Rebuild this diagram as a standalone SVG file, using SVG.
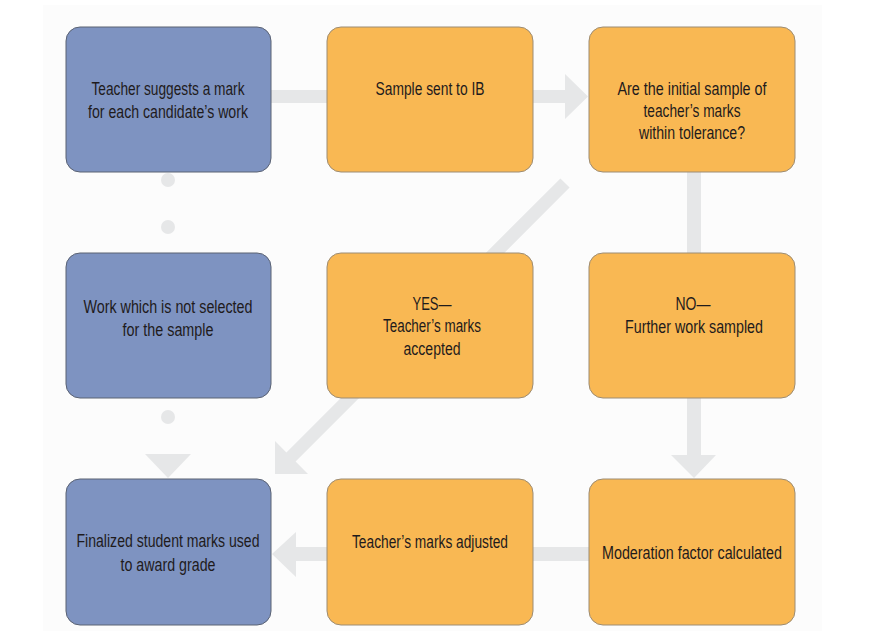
<svg xmlns="http://www.w3.org/2000/svg" width="895" height="631" viewBox="0 0 895 631">
<style>
.bg{fill:#fcfcfc}
.con{fill:#e6e7e8}
.blue{fill:#7e93c1;stroke:#5a6273;stroke-width:1}
.orange{fill:#f9b853;stroke:#9c8c74;stroke-width:1}
text{font-family:"Liberation Sans",Arial,sans-serif;font-size:17.5px;fill:#1f1b1c;text-anchor:middle}
</style>
<rect class="bg" x="43" y="5" width="779" height="626"/>
<g id="connectors">
<rect class="con" x="271" y="90" width="56" height="13"/>
<polygon class="con" points="533,90 565,90 565,74 588,96.5 565,119 565,103 533,103"/>
<rect class="con" x="687" y="172" width="14" height="81"/>
<polygon class="con" points="687,398 701,398 701,455 716,455 694,478 671,455 687,455"/>
<rect class="con" x="533" y="547" width="56" height="14"/>
<polygon class="con" points="327,547 327,561 296,561 296,577 272,554 296,532 296,547"/>
<polygon class="con" points="560.4,178.4 569.6,187.6 295.6,461.6 308,474 275,474 275,441 286.4,452.4"/>
<circle class="con" cx="168" cy="180" r="7"/>
<circle class="con" cx="168" cy="227" r="7"/>
<circle class="con" cx="168" cy="417" r="7"/>
<polygon class="con" points="145,454 191,454 168,478"/>
</g>
<g id="n1">
<rect class="blue" x="66" y="27" width="205" height="145" rx="14"/>
<text x="168" y="95" textLength="153" lengthAdjust="spacingAndGlyphs">Teacher suggests a mark</text>
<text x="168" y="118" textLength="160" lengthAdjust="spacingAndGlyphs">for each candidate’s work</text>
</g>
<g id="n2">
<rect class="orange" x="327" y="27" width="206" height="145" rx="14"/>
<text x="430" y="95" textLength="109" lengthAdjust="spacingAndGlyphs">Sample sent to IB</text>
</g>
<g id="n3">
<rect class="orange" x="589" y="27" width="206" height="145" rx="14"/>
<text x="692" y="95" textLength="149" lengthAdjust="spacingAndGlyphs">Are the initial sample of</text>
<text x="692" y="117" textLength="97" lengthAdjust="spacingAndGlyphs">teacher’s marks</text>
<text x="692" y="139" textLength="106" lengthAdjust="spacingAndGlyphs">within tolerance?</text>
</g>
<g id="n4">
<rect class="blue" x="66" y="253" width="205" height="145" rx="14"/>
<text x="168" y="313" textLength="169" lengthAdjust="spacingAndGlyphs">Work which is not selected</text>
<text x="168" y="336" textLength="91" lengthAdjust="spacingAndGlyphs">for the sample</text>
</g>
<g id="n5">
<rect class="orange" x="327" y="253" width="206" height="145" rx="14"/>
<text x="432" y="310" textLength="39" lengthAdjust="spacingAndGlyphs">YES—</text>
<text x="432" y="332" textLength="98" lengthAdjust="spacingAndGlyphs">Teacher’s marks</text>
<text x="432" y="355" textLength="57" lengthAdjust="spacingAndGlyphs">accepted</text>
</g>
<g id="n6">
<rect class="orange" x="589" y="253" width="206" height="145" rx="14"/>
<text x="693" y="310" textLength="35" lengthAdjust="spacingAndGlyphs">NO—</text>
<text x="694" y="333" textLength="138" lengthAdjust="spacingAndGlyphs">Further work sampled</text>
</g>
<g id="n7">
<rect class="blue" x="66" y="479" width="205" height="146" rx="14"/>
<text x="168" y="547" textLength="183" lengthAdjust="spacingAndGlyphs">Finalized student marks used</text>
<text x="168" y="571" textLength="95" lengthAdjust="spacingAndGlyphs">to award grade</text>
</g>
<g id="n8">
<rect class="orange" x="327" y="479" width="206" height="146" rx="14"/>
<text x="430" y="548" textLength="156" lengthAdjust="spacingAndGlyphs">Teacher’s marks adjusted</text>
</g>
<g id="n9">
<rect class="orange" x="589" y="479" width="206" height="146" rx="14"/>
<text x="692" y="559" textLength="180" lengthAdjust="spacingAndGlyphs">Moderation factor calculated</text>
</g>
</svg>
